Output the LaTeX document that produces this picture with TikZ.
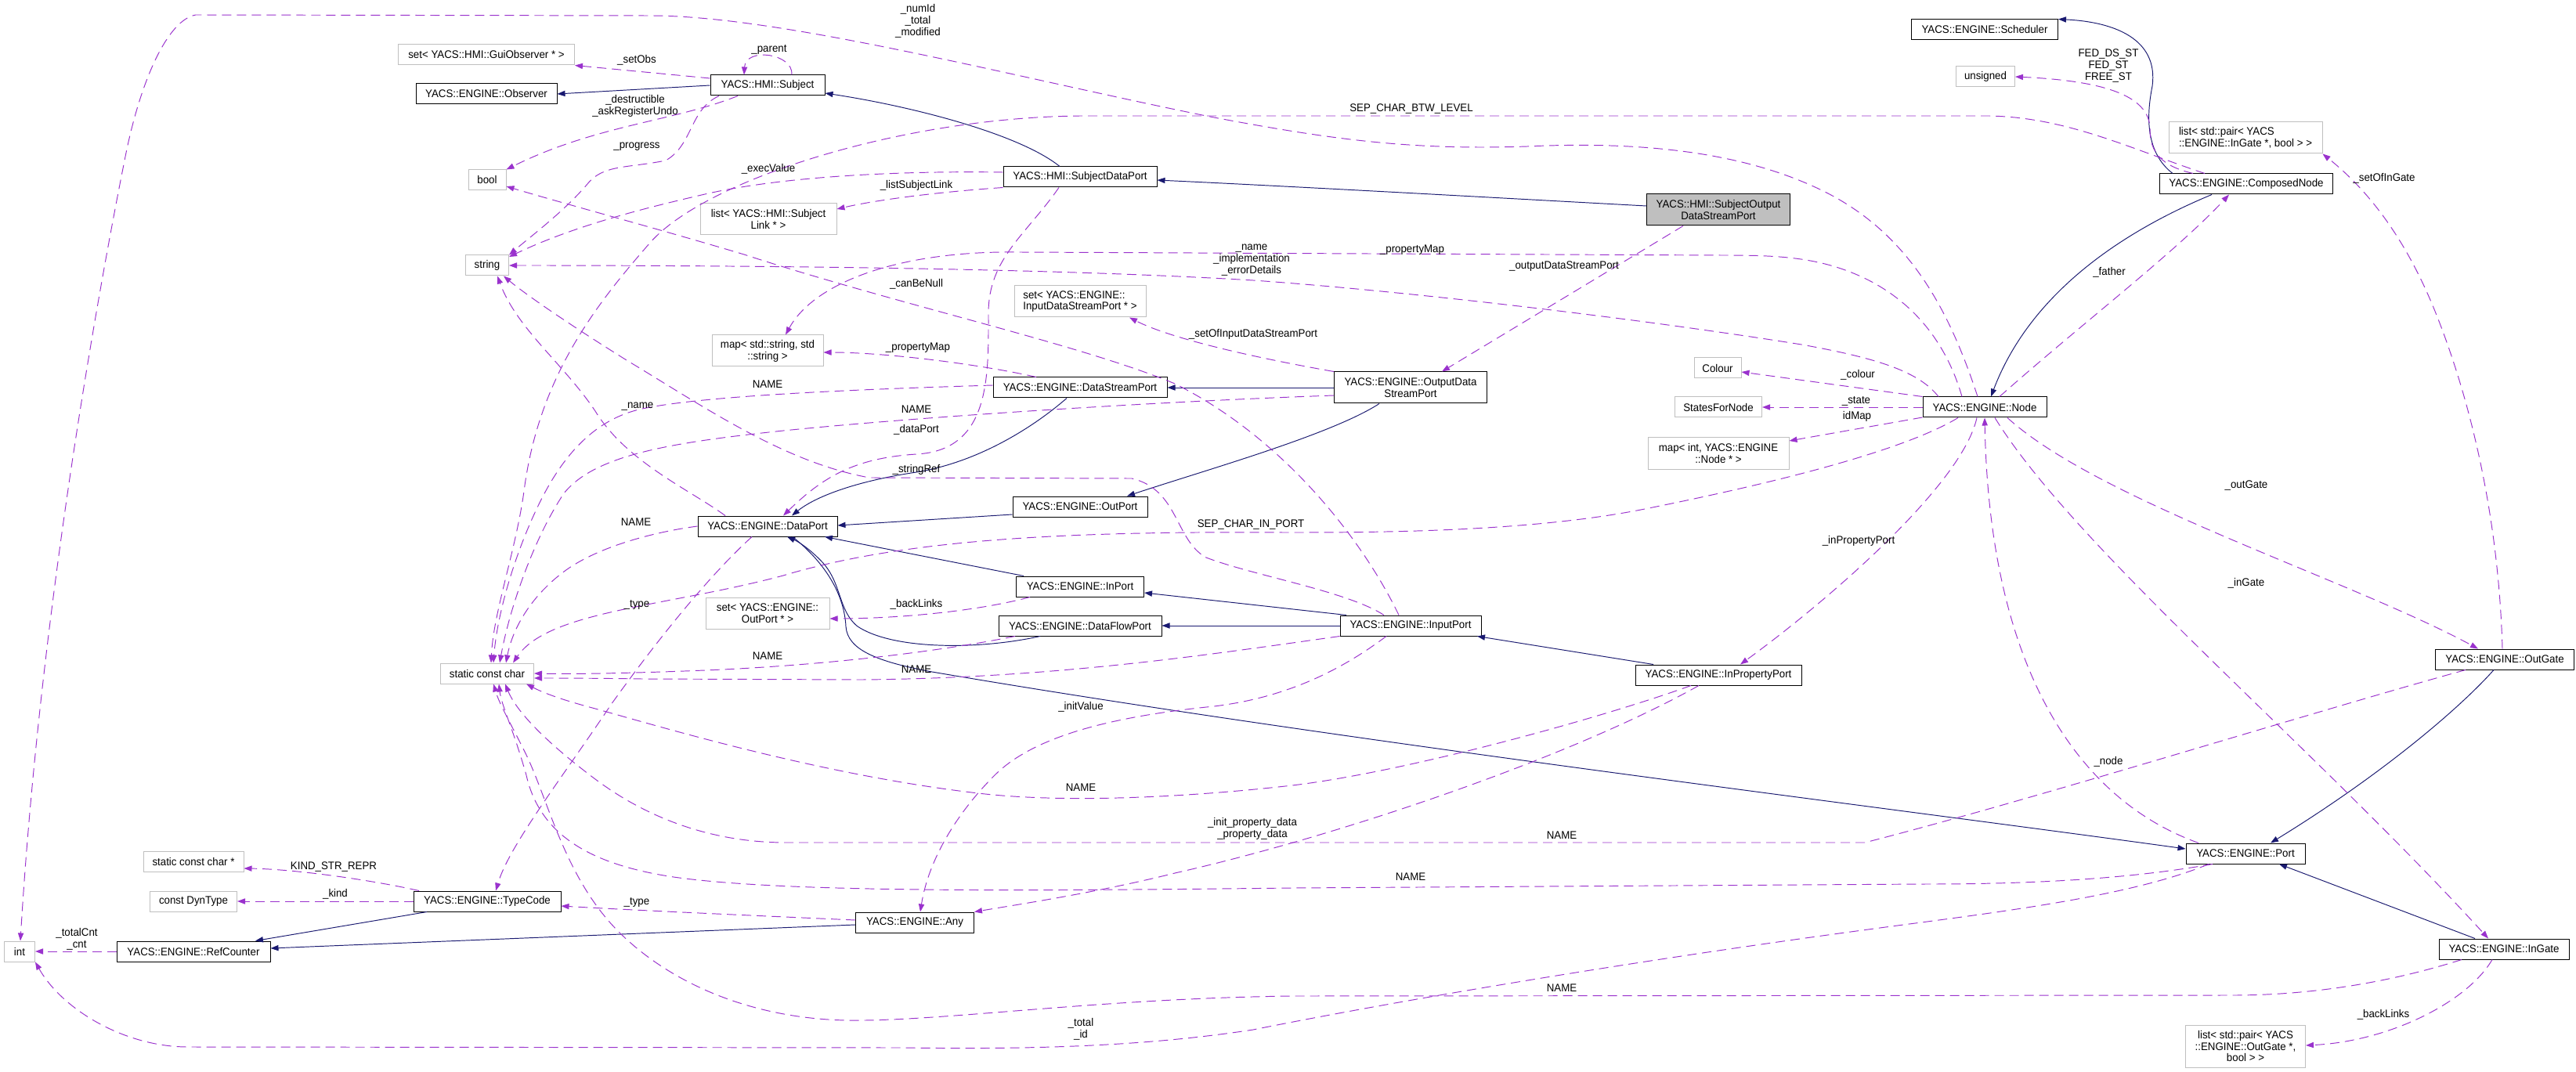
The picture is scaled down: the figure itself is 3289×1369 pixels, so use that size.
\documentclass[tikz,border=0pt]{standalone}
\usepackage{fontspec}
\setmainfont[FakeStretch=0.95]{Liberation Sans}
\usetikzlibrary{arrows.meta}
\definecolor{navy}{HTML}{191970}
\definecolor{orch}{HTML}{9A32CD}
\definecolor{gb}{HTML}{BFBFBF}
\begin{document}
\begin{tikzpicture}[x=0.5pt,y=-0.5pt,
  font=\fontsize{7}{7.4}\selectfont,
  cls/.style={draw=black,line width=0.5pt,rectangle,inner sep=0pt,minimum height=13pt,align=center,fill=white},
  ext/.style={cls,draw=gb},
  lbl/.style={inner sep=0pt,align=center},
  inh/.style={draw=navy,line width=0.48pt,-{Triangle[length=5pt,width=3.6pt]}},
  use/.style={draw=orch,line width=0.48pt,dash pattern=on 6pt off 3.5pt,-{Triangle[length=5pt,width=3.6pt]}}]
\fill[white] (0,0) rectangle (3289,1369);
\useasboundingbox (0,0) rectangle (3289,1369);
% ---------- nodes ----------
\node[ext, minimum width=112.5pt] (nGui) at (621,70) {set< YACS::HMI::GuiObserver * >};
\node[cls, minimum width=90pt] (nObs) at (621,120) {YACS::ENGINE::Observer};
\node[ext, minimum width=24pt] (nBool) at (622,230) {bool};
\node[ext, minimum width=27.5pt] (nStr) at (622,339) {string};
\node[cls, minimum width=73pt] (nSubj) at (980,109) {YACS::HMI::Subject};
\node[cls, minimum width=98pt] (nSDP) at (1379,226) {YACS::HMI::SubjectDataPort};
\node[cls, fill=gb, minimum width=91.5pt, minimum height=20pt] (nSODSP) at (2194,268) {YACS::HMI::SubjectOutput\\DataStreamPort};
\node[ext, minimum width=87pt, minimum height=20pt] (nLSL) at (981,280) {list< YACS::HMI::Subject\\Link * >};
\node[ext, minimum width=84pt, minimum height=20pt, align=left] (nSetIDSP) at (1379,385) {set< YACS::ENGINE::\\InputDataStreamPort * >};
\node[ext, minimum width=71pt, minimum height=20pt] (nMapSS) at (980,448) {map< std::string, std\\::string >};
\node[cls, minimum width=93.5pt] (nSched) at (2534,38) {YACS::ENGINE::Scheduler};
\node[ext, minimum width=37.5pt] (nUns) at (2535,98) {unsigned};
\node[ext, minimum width=98pt, minimum height=20pt, align=left] (nLIG) at (2867,176) {list< std::pair< YACS\\::ENGINE::InGate *, bool > >};
\node[cls, minimum width=110.5pt] (nComp) at (2868,235) {YACS::ENGINE::ComposedNode};
\node[ext, minimum width=59.5pt] (nSCC) at (622,860) {static const char};
\node[cls, minimum width=111pt] (nDSP) at (1379,495) {YACS::ENGINE::DataStreamPort};
\node[cls, minimum width=86pt] (nOutP) at (1379,647) {YACS::ENGINE::OutPort};
\node[cls, minimum width=89pt] (nDP) at (980,672) {YACS::ENGINE::DataPort};
\node[cls, minimum width=81.5pt] (nInP) at (1379,749) {YACS::ENGINE::InPort};
\node[ext, minimum width=79pt, minimum height=20pt] (nSetOP) at (980,783) {set< YACS::ENGINE::\\OutPort * >};
\node[cls, minimum width=104pt] (nDFP) at (1379,799) {YACS::ENGINE::DataFlowPort};
\node[cls, minimum width=97.5pt, minimum height=20pt] (nODSP) at (1801,495) {YACS::ENGINE::OutputData\\StreamPort};
\node[ext, minimum width=30pt] (nColour) at (2193,470) {Colour};
\node[ext, minimum width=55.5pt] (nSFN) at (2194,520) {StatesForNode};
\node[ext, minimum width=90pt, minimum height=20pt] (nMapIN) at (2194,579) {map< int, YACS::ENGINE\\::Node * >};
\node[cls, minimum width=79pt] (nNode) at (2534,520) {YACS::ENGINE::Node};
\node[cls, minimum width=90pt] (nInputP) at (1801,799) {YACS::ENGINE::InputPort};
\node[cls, minimum width=106pt] (nInProp) at (2194,862) {YACS::ENGINE::InPropertyPort};
\node[cls, minimum width=88.5pt] (nOutG) at (3198,842) {YACS::ENGINE::OutGate};
\node[ext, minimum width=19.5pt] (nInt) at (25,1215) {int};
\node[cls, minimum width=98pt] (nRef) at (247,1215) {YACS::ENGINE::RefCounter};
\node[ext, minimum width=64pt] (nSCCP) at (247,1100) {static const char *};
\node[ext, minimum width=55.5pt] (nDyn) at (247,1151) {const DynType};
\node[cls, minimum width=94pt] (nTC) at (622,1151) {YACS::ENGINE::TypeCode};
\node[cls, minimum width=75.5pt] (nAny) at (1168,1178) {YACS::ENGINE::Any};
\node[cls, minimum width=76pt] (nPort) at (2867,1090) {YACS::ENGINE::Port};
\node[cls, minimum width=83pt] (nInG) at (3197,1212) {YACS::ENGINE::InGate};
\node[ext, minimum width=76.5pt, minimum height=27pt] (nLOG) at (2867,1336) {list< std::pair< YACS\\::ENGINE::OutGate *,\\bool > >};
% ---------- inheritance ----------
\draw[inh] (nSubj.west) -- (nObs.east);
\draw[inh] (nSDP.north -| 1353,0) .. controls (1300,170) and (1160,135) .. (nSubj.east |- 0,119);
\draw[inh] (nSODSP.west |- 0,263) .. controls (1900,252) and (1650,238) .. (nSDP.east |- 0,230);
\draw[inh] (nComp.north -| 2774,0) .. controls (2740,195) and (2740,150) .. (2748,110) .. controls (2756,50) and (2700,28) .. (nSched.north east);
\draw[inh] (nComp.south -| 2824,0) .. controls (2700,300) and (2590,380) .. (nNode.north -| 2542,0);
\draw[inh] (nDSP.south -| 1362,0) .. controls (1320,545) and (1250,590) .. (1170,603) .. controls (1090,615) and (1040,635) .. (nDP.north -| 1011,0);
\draw[inh] (nODSP.west) -- (nDSP.east);
\draw[inh] (nODSP.south -| 1761,0) .. controls (1700,555) and (1540,600) .. (nOutP.north -| 1439,0);
\draw[inh] (nOutP.west |- 0,657) -- (nDP.east |- 0,671);
\draw[inh] (nInP.north -| 1307,0) -- (nDP.south -| 1053,0);
\draw[inh] (nDFP.south -| 1328,0) .. controls (1250,830) and (1140,830) .. (1095,800) .. controls (1070,780) and (1075,745) .. (1050,718) .. controls (1035,702) and (1020,692) .. (nDP.south -| 1005,0);
\draw[inh] (nDP.south -| 1012,0) .. controls (1055,720) and (1078,760) .. (1080,800) .. controls (1082,830) and (1120,845) .. (1190,858) .. controls (1700,945) and (2400,1030) .. (nPort.west |- 0,1084);
\draw[inh] (nInputP.north -| 1719,0) -- (nInP.east |- 0,757);
\draw[inh] (nInputP.west) -- (nDFP.east);
\draw[inh] (nInProp.north -| 2111,0) -- (nInputP.south -| 1886,0);
\draw[inh] (nAny.west |- 0,1181) -- (nRef.east |- 0,1211);
\draw[inh] (nTC.south -| 545,0) -- (nRef.north -| 326,0);
\draw[inh] (nOutG.south -| 3184,0) .. controls (3140,905) and (3040,990) .. (nPort.north -| 2899,0);
\draw[inh] (nInG.north -| 3160,0) -- (nPort.south -| 2910,0);
% ---------- usage ----------
\draw[use] (nSubj.west |- 0,100) -- (nGui.south east);
\draw[use] (nSubj.north -| 1011,0) .. controls (1013,68) and (952,60) .. (nSubj.north -| 950,0);
\draw[use] (nSubj.south -| 942,0) .. controls (860,155) and (760,160) .. (nBool.north east);
\draw[use] (nSubj.south -| 918,0) .. controls (880,140) and (885,185) .. (850,205) .. controls (800,215) and (770,210) .. (750,235) .. controls (720,270) and (680,300) .. (nStr.north east);
\draw[use] (nSDP.west |- 0,220) .. controls (1150,218) and (1000,225) .. (900,248) .. controls (840,262) and (740,285) .. (nStr.east |- 0,328);
\draw[use] (nSDP.south west) .. controls (1200,245) and (1120,255) .. (nLSL.east |- 0,267);
\draw[use] (nSODSP.south -| 2149,0) -- (nODSP.north -| 1841,0);
\draw[use] (nSDP.south -| 1352,0) .. controls (1310,300) and (1262,330) .. (1262,400) .. controls (1262,480) and (1265,575) .. (1170,580) .. controls (1090,585) and (1050,610) .. (nDP.north -| 1000,0);
\draw[use] (nNode.north -| 2475,0) .. controls (2450,475) and (2400,458) .. (2300,440) .. controls (2100,408) and (1800,372) .. (1600,358) .. controls (1400,346) and (1100,339) .. (nStr.east);
\draw[use] (nNode.north -| 2505,0) .. controls (2480,420) and (2420,360) .. (2330,337) .. controls (2290,327) and (2250,326) .. (2200,326) -- (1300,322) .. controls (1150,320) and (1040,360) .. (nMapSS.north -| 1003,0);
\draw[use] (nDSP.north -| 1323,0) .. controls (1250,465) and (1130,450) .. (nMapSS.east |- 0,450);
\draw[use] (nNode.north -| 2553,0) .. controls (2650,420) and (2780,320) .. (nComp.south -| 2846,0);
\draw[use] (nComp.north -| 2800,0) .. controls (2760,212) and (2745,195) .. (2745,165) .. controls (2745,120) and (2680,103) .. (nUns.east);
\draw[use] (nComp.north -| 2815,0) .. controls (2720,190) and (2640,150) .. (2540,148) -- (1380,148) .. controls (1150,150) and (900,230) .. (830,310) .. controls (760,390) and (690,480) .. (670,620) .. controls (660,700) and (630,780) .. (nSCC.north -| 627,0);
\draw[use] (nNode.north west) -- (nColour.east |- 0,475);
\draw[use] (nNode.west) -- (nSFN.east);
\draw[use] (nNode.west |- 0,533) -- (nMapIN.east |- 0,563);
\draw[use] (nNode.south -| 2500,0) .. controls (2440,570) and (2300,610) .. (2100,650) .. controls (1950,680) and (1750,680) .. (1640,680) .. controls (1350,678) and (1150,690) .. (1000,735) .. controls (850,775) and (700,780) .. (nSCC.north -| 655,0);
\draw[use] (nNode.south -| 2524,0) .. controls (2505,620) and (2330,770) .. (nInProp.north -| 2222,0);
\draw[use] (nNode.south -| 2563,0) .. controls (2680,640) and (3000,740) .. (nOutG.north -| 3164,0);
\draw[use] (nNode.south -| 2547,0) .. controls (2650,700) and (2950,950) .. (nInG.north -| 3177,0);
\draw[use] (nPort.north -| 2807,0) .. controls (2650,1020) and (2540,850) .. (nNode.south -| 2534,0);
\draw[use] (nOutG.north -| 3195,0) .. controls (3190,650) and (3150,500) .. (3110,400) .. controls (3070,300) and (3020,240) .. (nLIG.south east);
\draw[use] (nInG.south -| 3182,0) .. controls (3150,1280) and (3050,1330) .. (nLOG.east |- 0,1335);
\draw[use] (nOutG.south -| 3148,0) .. controls (2950,910) and (2600,1020) .. (2381,1076) -- (1000,1076) .. controls (900,1075) and (820,1040) .. (760,995) .. controls (700,950) and (660,910) .. (nSCC.south -| 645,0);
\draw[use] (nPort.south -| 2825,0) .. controls (2720,1122) and (2600,1129) .. (2460,1129) -- (1650,1134) .. controls (1300,1138) and (1000,1140) .. (860,1120) .. controls (760,1105) and (690,1070) .. (672,990) .. controls (655,930) and (640,900) .. (nSCC.south -| 637,0);
\draw[use] (nInG.south -| 3143,0) .. controls (3050,1255) and (2950,1271) .. (2850,1271) -- (1650,1272) .. controls (1400,1275) and (1200,1305) .. (1080,1303) .. controls (950,1300) and (850,1250) .. (790,1190) .. controls (720,1120) and (700,1020) .. (670,960) .. controls (650,920) and (638,900) .. (nSCC.south -| 630,0);
\draw[use] (nPort.south -| 2820,0) .. controls (2720,1145) and (2550,1165) .. (2400,1185) .. controls (2100,1225) and (1800,1275) .. (1600,1315) .. controls (1450,1338) and (1300,1340) .. (1150,1338) -- (240,1337) .. controls (160,1337) and (80,1290) .. (nInt.south east);
\draw[use] (nInProp.south -| 2159,0) .. controls (2050,915) and (1800,985) .. (1650,1003) .. controls (1500,1020) and (1350,1025) .. (1249,1013) .. controls (1050,990) and (850,930) .. (760,905) .. controls (730,897) and (700,888) .. (nSCC.south -| 672,0);
\draw[use] (nDFP.south -| 1296,0) .. controls (1200,832) and (1050,850) .. (900,856) .. controls (800,860) and (730,861) .. (nSCC.east |- 0,860);
\draw[use] (nInputP.south west) .. controls (1550,835) and (1350,866) .. (1100,868) -- (820,867) .. controls (750,866) and (710,866) .. (nSCC.east |- 0,866);
\draw[use] (nInputP.south -| 1770,0) .. controls (1720,850) and (1650,890) .. (1550,902) .. controls (1420,915) and (1320,940) .. (1270,990) .. controls (1220,1040) and (1185,1100) .. (nAny.north -| 1175,0);
\draw[use] (nInputP.north -| 1786,0) .. controls (1740,690) and (1640,560) .. (1500,490) .. controls (1380,440) and (1150,390) .. (950,325) .. controls (850,295) and (720,260) .. (nBool.east |- 0,238);
\draw[use] (nInputP.north -| 1767,0) .. controls (1720,755) and (1600,735) .. (1540,712) .. controls (1500,690) and (1505,625) .. (1445,611) -- (1110,610) .. controls (1000,590) and (900,520) .. (800,460) .. controls (720,410) and (670,375) .. (nStr.south -| 643,0);
\draw[use] (nDP.north -| 926,0) .. controls (880,625) and (800,590) .. (760,525) .. controls (720,465) and (660,420) .. (nStr.south -| 635,0);
\draw[use] (nDP.west) .. controls (830,680) and (760,700) .. (720,730) .. controls (680,760) and (655,800) .. (nSCC.north -| 646,0);
\draw[use] (nDP.south -| 960,0) .. controls (900,740) and (830,830) .. (780,900) .. controls (720,990) and (650,1080) .. (nTC.north -| 633,0);
\draw[use] (nDSP.west |- 0,492) .. controls (1100,497) and (900,505) .. (820,522) .. controls (760,535) and (720,580) .. (690,640) .. controls (660,700) and (635,780) .. (nSCC.north -| 630,0);
\draw[use] (nODSP.west |- 0,505) .. controls (1500,512) and (1200,530) .. (1000,550) .. controls (860,565) and (760,580) .. (720,630) .. controls (680,690) and (650,780) .. (nSCC.north -| 638,0);
\draw[use] (nInP.south -| 1315,0) .. controls (1250,780) and (1150,790) .. (nSetOP.east |- 0,790);
\draw[use] (nODSP.north west) .. controls (1620,460) and (1500,435) .. (nSetIDSP.south -| 1442,0);
\draw[use] (nInProp.south -| 2169,0) .. controls (2000,970) and (1700,1070) .. (1500,1115) .. controls (1400,1140) and (1300,1155) .. (nAny.north east);
\draw[use] (nAny.west |- 0,1175) .. controls (980,1170) and (820,1163) .. (nTC.east |- 0,1157);
\draw[use] (nTC.north -| 535,0) .. controls (480,1125) and (380,1110) .. (nSCCP.east |- 0,1109);
\draw[use] (nTC.west) -- (nDyn.east);
\draw[use] (nRef.west) -- (nInt.east);
\draw[use] (nNode.north -| 2525,0) .. controls (2490,400) and (2440,300) .. (2330,245) .. controls (2230,195) and (2100,180) .. (1950,187) .. controls (1800,192) and (1700,178) .. (1550,150) .. controls (1300,100) and (1000,20) .. (830,20) -- (250,19) .. controls (215,25) and (180,100) .. (160,200) .. controls (120,400) and (50,800) .. (nInt.north -| 26,0);
% ---------- labels ----------
\node[lbl] (t01) at (813,77) {\_setObs};
\node[lbl] (t02) at (811,135) {\_destructible\\\_askRegisterUndo};
\node[lbl] (t03) at (813,187) {\_progress};
\node[lbl] (t04) at (1172,27) {\_numId\\\_total\\\_modified};
\node[lbl] (t05) at (982,63) {\_parent};
\node[lbl] (t06) at (981,216) {\_execValue};
\node[lbl] (t07) at (1170,237) {\_listSubjectLink};
\node[lbl] (t08) at (1598,332) {\_name\\\_implementation\\\_errorDetails};
\node[lbl] (t09) at (1170,363) {\_canBeNull};
\node[lbl] (t10) at (1600,427) {\_setOfInputDataStreamPort};
\node[lbl] (t11) at (1172,444) {\_propertyMap};
\node[lbl] (t12) at (1802,139) {SEP\_CHAR\_BTW\_LEVEL};
\node[lbl] (t13) at (1803,319) {\_propertyMap};
\node[lbl] (t14) at (1997,340) {\_outputDataStreamPort};
\node[lbl] (t15) at (2692,84) {FED\_DS\_ST\\FED\_ST\\FREE\_ST};
\node[lbl] (t16) at (3044,228) {\_setOfInGate};
\node[lbl] (t17) at (2693,348) {\_father};
\node[lbl] (t18) at (814,519) {\_name};
\node[lbl] (t19) at (812,667) {NAME};
\node[lbl] (t20) at (813,772) {\_type};
\node[lbl] (t21) at (980,491) {NAME};
\node[lbl] (t22) at (1170,523) {NAME};
\node[lbl] (t23) at (1170,549) {\_dataPort};
\node[lbl] (t24) at (1170,600) {\_stringRef};
\node[lbl] (t25) at (1597,670) {SEP\_CHAR\_IN\_PORT};
\node[lbl] (t26) at (1170,772) {\_backLinks};
\node[lbl] (t27) at (980,838) {NAME};
\node[lbl] (t28) at (1170,855) {NAME};
\node[lbl] (t29) at (1380,903) {\_initValue};
\node[lbl] (t30) at (2372,479) {\_colour};
\node[lbl] (t31) at (2370,512) {\_state};
\node[lbl] (t32) at (2371,532) {idMap};
\node[lbl] (t33) at (2373,691) {\_inPropertyPort};
\node[lbl] (t34) at (2868,620) {\_outGate};
\node[lbl] (t35) at (2868,745) {\_inGate};
\node[lbl] (t36) at (98,1199) {\_totalCnt\\\_cnt};
\node[lbl] (t37) at (426,1107) {KIND\_STR\_REPR};
\node[lbl] (t38) at (428,1142) {\_kind};
\node[lbl] (t39) at (813,1152) {\_type};
\node[lbl] (t40) at (1380,1006) {NAME};
\node[lbl] (t41) at (1599,1058) {\_init\_property\_data\\\_property\_data};
\node[lbl] (t42) at (1380,1314) {\_total\\\_id};
\node[lbl] (t43) at (1994,1067) {NAME};
\node[lbl] (t44) at (1801,1120) {NAME};
\node[lbl] (t45) at (1994,1262) {NAME};
\node[lbl] (t46) at (2692,973) {\_node};
\node[lbl] (t47) at (3043,1296) {\_backLinks};
\end{tikzpicture}
\end{document}
